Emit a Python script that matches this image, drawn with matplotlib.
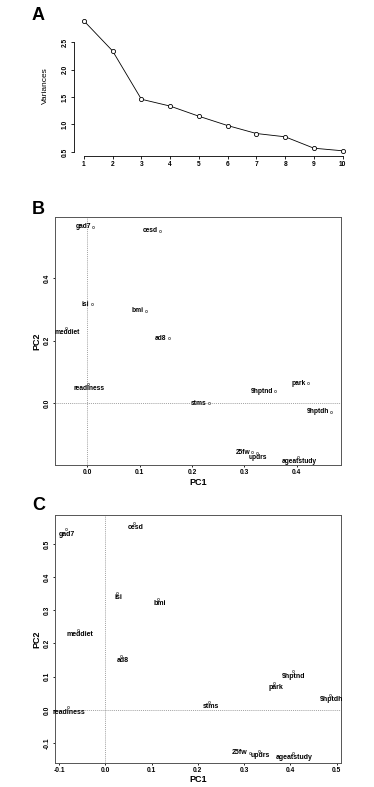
import matplotlib.pyplot as plt

plt.rcParams['font.family'] = ['Liberation Sans', 'DejaVu Sans']

# scree data (panel A)
components = [1, 2, 3, 4, 5, 6, 7, 8, 9, 10]
variances = [2.89, 2.34, 1.46, 1.335, 1.15, 0.98, 0.835, 0.775, 0.567, 0.52]

# loadings (panels B and C)
names_b = ["gad7", "cesd", "isi", "bmi", "meddiet", "ad8", "readiness", "park",
           "9hptnd", "stms", "9hptdh", "25fw", "updrs", "ageatstudy"]
pc1_b = [0.0115, 0.138, 0.0084, 0.1115, -0.041, 0.1555, 0.0007, 0.4217,
         0.359, 0.232, 0.466, 0.315, 0.324, 0.402]
pc2_b = [0.565, 0.552, 0.317, 0.296, 0.242, 0.209, 0.063, 0.064,
         0.039, 0.0, -0.026, -0.156, -0.158, -0.170]

names_c = ["gad7", "cesd", "isi", "bmi", "meddiet", "ad8", "9hptnd", "park",
           "9hptdh", "stms", "readiness", "25fw", "updrs", "ageatstudy"]
pc1_c = [-0.085, 0.0627, 0.0246, 0.115, -0.058, 0.0346, 0.405, 0.365,
         0.486, 0.225, -0.0815, 0.313, 0.332, 0.406]
pc2_c = [0.545, 0.564, 0.353, 0.335, 0.242, 0.163, 0.117, 0.082,
         0.046, 0.025, 0.008, -0.129, -0.123, -0.129]

# where each label sits relative to its point: 'l' left, 'b' below
place_b = ['l', 'l', 'l', 'l', 'b', 'l', 'b', 'l', 'l', 'l', 'l', 'l', 'b', 'b']
place_c = ['b'] * 11 + ['l', 'b', 'b']

W, H = 374, 787
fig = plt.figure(figsize=(W / 100, H / 100), dpi=100)


def px_axes(left, top, right, bottom):
    return fig.add_axes([left / W, 1 - bottom / H, (right - left) / W, (bottom - top) / H])


def style_ticks(ax, length):
    ax.tick_params(axis='both', length=length, width=0.6, labelsize=4.8, pad=1.5)
    for lab in ax.get_xticklabels() + ax.get_yticklabels():
        lab.set_fontweight('bold')
    for lab in ax.get_yticklabels():
        lab.set_rotation(90)
        lab.set_va('center')


# ---- panel A ----
axA = px_axes(73.5, 15.6, 353, 156)
axA.plot(components, variances, color='black', lw=0.6, marker='o', ms=3,
         mfc='white', mec='black', mew=0.6, clip_on=False)
axA.set_xlim(0.64, 10.36)
axA.set_ylim(0.425, 2.985)
axA.set_xticks(components)
axA.set_yticks([0.5, 1.0, 1.5, 2.0, 2.5])
axA.set_yticklabels(["0.5", "1.0", "1.5", "2.0", "2.5"])
for s in ['top', 'right']:
    axA.spines[s].set_visible(False)
axA.spines['left'].set_bounds(0.5, 2.5)
axA.spines['bottom'].set_bounds(1, 10)
for s in ['left', 'bottom']:
    axA.spines[s].set_linewidth(0.6)
style_ticks(axA, 2.2)
axA.set_ylabel("Variances", fontsize=6, labelpad=9)
fig.text(32 / W, 1 - 16 / H, "A", fontsize=13, fontweight='bold', va='center')


def loading_panel(ax, x, y, names, place, xlim, ylim, xticks, yticks, fsize):
    ax.axvline(0, color='gray', lw=0.5, ls=(0, (1.5, 1.5)), zorder=0)
    ax.axhline(0, color='gray', lw=0.5, ls=(0, (1.5, 1.5)), zorder=0)
    ax.plot(x, y, ls='none', marker='o', ms=1.6, mfc='white', mec='#555555', mew=0.5)
    for xi, yi, nm, p in zip(x, y, names, place):
        if p == 'l':
            ax.annotate(nm, (xi, yi), xytext=(-1.6, 0), textcoords='offset points',
                        ha='right', va='center', fontsize=fsize, fontweight='bold')
        else:
            ax.annotate(nm, (xi, yi), xytext=(1, -1.2), textcoords='offset points',
                        ha='center', va='top', fontsize=fsize, fontweight='bold')
    ax.set_xlim(*xlim)
    ax.set_ylim(*ylim)
    ax.set_xticks(xticks)
    ax.set_xticklabels(["%.1f" % t for t in xticks])
    ax.set_yticks(yticks)
    ax.set_yticklabels(["%.1f" % t for t in yticks])
    for s in ax.spines.values():
        s.set_linewidth(0.7)
        s.set_color('#555555')
    style_ticks(ax, 1.6)
    ax.set_xlabel("PC1", fontsize=6.5, fontweight='bold', labelpad=1)
    ax.set_ylabel("PC2", fontsize=6.5, fontweight='bold', labelpad=2)


# ---- panel B ----
axB = px_axes(55.3, 217.3, 340.7, 465)
loading_panel(axB, pc1_b, pc2_b, names_b, place_b, (-0.061, 0.484), (-0.197, 0.595),
              [0.0, 0.1, 0.2, 0.3, 0.4], [0.0, 0.2, 0.4], 4.8)
fig.text(32 / W, 1 - 209 / H, "B", fontsize=13, fontweight='bold', va='center')

# ---- panel C ----
axC = px_axes(55.3, 515, 340.7, 762.7)
loading_panel(axC, pc1_c, pc2_c, names_c, place_c, (-0.108, 0.509), (-0.159, 0.587),
              [-0.1, 0.0, 0.1, 0.2, 0.3, 0.4, 0.5], [-0.1, 0.0, 0.1, 0.2, 0.3, 0.4, 0.5], 5)
fig.text(32 / W, 1 - 506 / H, "C", fontsize=13, fontweight='bold', va='center')

fig.savefig("out.png", dpi=100)
